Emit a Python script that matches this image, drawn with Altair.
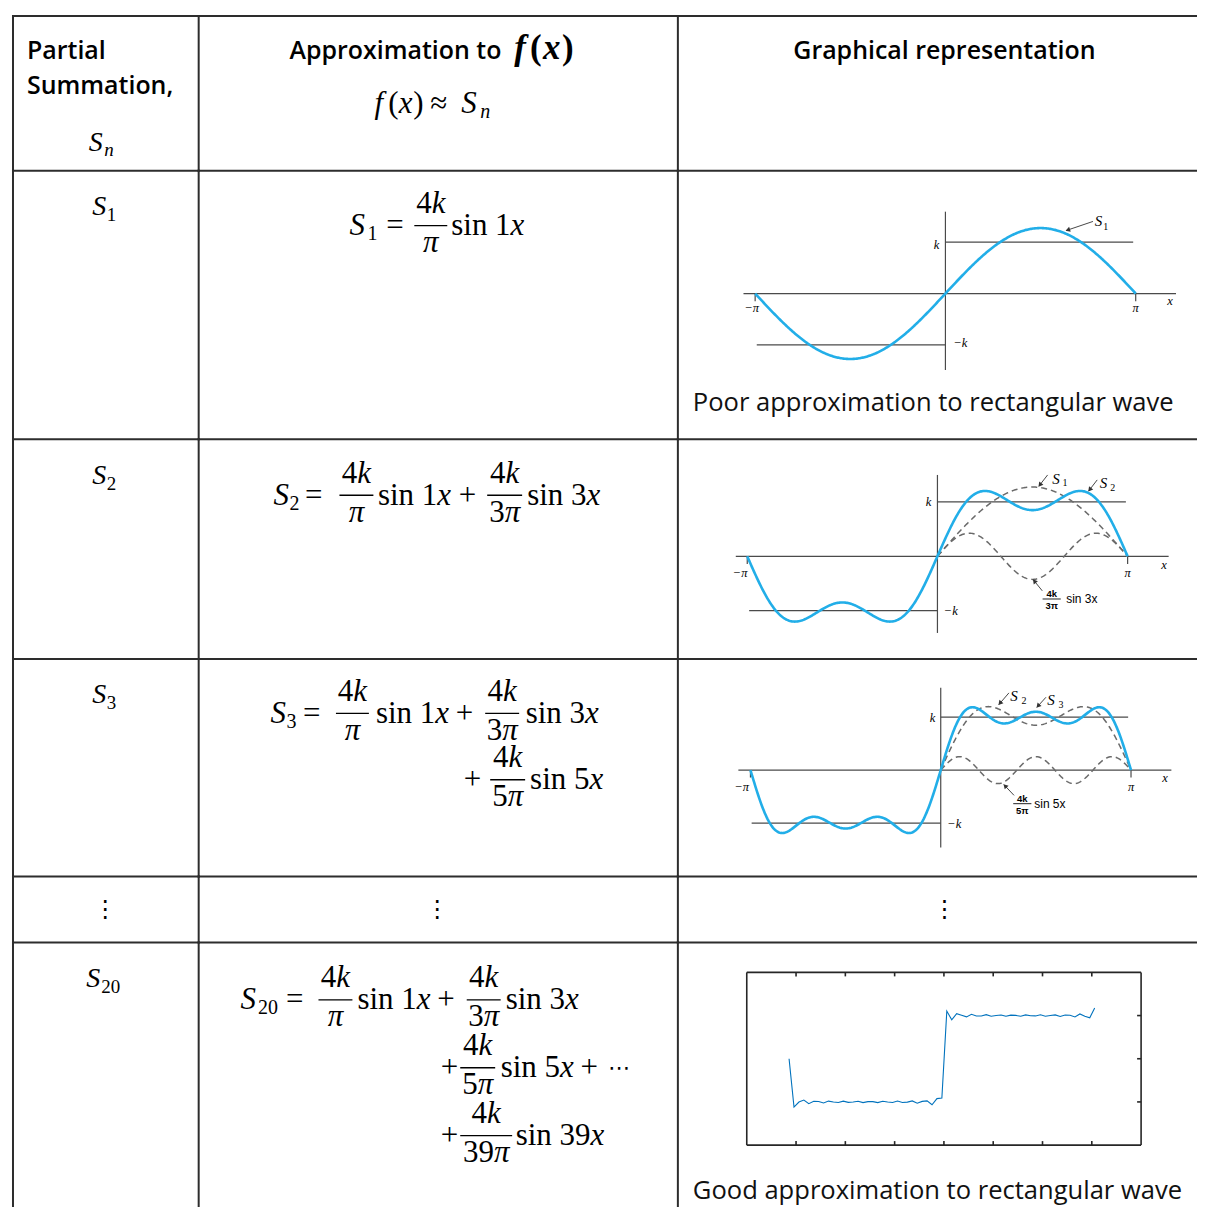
import math
import numpy as np
import pandas as pd
import altair as alt

PI = math.pi

# ---------------- chart values ----------------
header_partial = ["Partial", "Summation,"]
header_approx = "Approximation to"
header_graph = "Graphical representation"
sum_orders = ["1", "2", "3", "20"]                      # n of S_n
odd_harmonics = [1, 3, 5, 7, 9, 11, 13, 15, 17, 19, 21, 23, 25, 27, 29, 31, 33, 35, 37, 39]
caption_poor = "Poor approximation to rectangular wave"
caption_good = "Good approximation to rectangular wave"
k_amp = 1.0
s20_step = 0.1
s20_xlim = [-4, 4]
s20_ylim = [-2, 2]
s20_xticks = [-3, -2, -1, 0, 1, 2, 3]
s20_yticks = [-1, 0, 1]


def partial_sum(x, n_terms):
    return sum(4 * k_amp / (PI * m) * np.sin(m * x) for m in odd_harmonics[:n_terms])


# ---------------- layout / style ----------------
COLS = [12, 198, 678, 1198]
ROWS = [14, 169, 438, 658, 876, 942, 1207]
SERIF = "Liberation Serif"
SANS = "Open Sans"
LINE = "#2d2d2d"
CYAN = "#22AEE8"
AXC = "#4a4a4a"
MS = 31
SUB = 20

W_UP = {d: .5 for d in "0123456789"}
W_UP.update({"s": .389, "i": .278, "n": .5, " ": .25, "=": .564, "+": .564, "(": .333, ")": .333})
W_IT = {"S": .5, "k": .444, "x": .444, "π": .5, "f": .278, "n": .5}


def tw(t, size, it):
    tab = W_IT if it else W_UP
    return sum(tab.get(c, .5) for c in t) * size


def piece(text, x, y, size, italic=False, font=SERIF, weight=400, align="left",
          baseline="alphabetic", color="black"):
    return dict(text=text, x=x, y=y, size=size, style="italic" if italic else "normal",
                font=font, weight=weight, align=align, baseline=baseline, color=color)


def run(tokens, x, y, size):
    out = []
    for t, it in tokens:
        if t == " ":
            x += .25 * size
            continue
        out.append(piece(t, x, y, size, it))
        x += tw(t, size, it)
    return out


def centered(tokens, cx, y, size):
    total = sum(tw(t, size, it) for t, it in tokens)
    return run(tokens, cx - total / 2, y, size)


FOURK = [("4", False), ("k", True)]


def den_tok(m):
    return ([(str(m), False)] if m > 1 else []) + [("π", True)]


def formula(B, elems):
    pieces, rules = [], []
    bar = B - 9.5
    for e in elems:
        kind = e[0]
        if kind == "S":
            _, x, sub, sx = e
            pieces.append(piece("S", x, B, MS, True))
            pieces.append(piece(sub, sx, B + 5, SUB))
        elif kind in ("=", "+"):
            pieces.append(piece(kind, e[1], B, MS))
        elif kind == "frac":
            _, m, cx, half = e
            pieces += centered(FOURK, cx, bar - 12.5, MS)
            pieces += centered(den_tok(m), cx, bar + 26.5, MS)
            rules.append(dict(x=cx - half, x2=cx + half, y=bar))
        elif kind == "sin":
            _, m, x = e
            pieces += run([("sin", False), (" ", False), (str(m), False), ("x", True)], x, B, MS)
        elif kind == "cdots":
            pieces.append(piece("⋯", e[1], bar, 22, font="DejaVu Sans", baseline="middle"))
    return pieces, rules


def text_layers(df, xs=None, ys=None):
    layers = []
    keys = ["font", "style", "weight", "align", "baseline", "color"]
    for key, g in df.groupby(keys, sort=False):
        font, style, weight, align, baseline, color = key
        layers.append(
            alt.Chart(g[["x", "y", "text", "size"]].reset_index(drop=True))
            .mark_text(font=font, fontStyle=style, fontWeight=int(weight), align=align,
                       baseline=baseline, color=color)
            .encode(x=alt.X("x:Q", scale=xs, axis=None),
                    y=alt.Y("y:Q", scale=ys, axis=None),
                    text="text:N",
                    size=alt.Size("size:Q", scale=None, legend=None))
        )
    return layers


def border_layers(col, row):
    w, h = COLS[col + 1] - COLS[col], ROWS[row + 1] - ROWS[row]
    one = pd.DataFrame({"a": [0]})
    hx2 = w if col == 2 else w + 1
    vy2 = h if row == 5 else h + 1
    top = alt.Chart(one).mark_rule(color=LINE, strokeWidth=2).encode(
        x=alt.value(-1), x2=alt.value(hx2), y=alt.value(0))
    left = alt.Chart(one).mark_rule(color=LINE, strokeWidth=2).encode(
        x=alt.value(0), y=alt.value(-1), y2=alt.value(vy2))
    return [top, left]


def text_cell(col, row, pieces, rules=()):
    x0, y0 = COLS[col], ROWS[row]
    w, h = COLS[col + 1] - x0, ROWS[row + 1] - y0
    df = pd.DataFrame(pieces)
    df["x"] = df["x"] - x0
    df["y"] = df["y"] - y0
    layers = text_layers(df)
    if rules:
        r = pd.DataFrame(list(rules))
        r["x"] -= x0
        r["x2"] -= x0
        r["y"] -= y0
        layers.append(alt.Chart(r).mark_rule(color="black", strokeWidth=1.4).encode(
            x=alt.X("x:Q", scale=None), x2="x2:Q", y=alt.Y("y:Q", scale=None)))
    layers += border_layers(col, row)
    return alt.layer(*layers).properties(width=w, height=h)


def graph_cell(col, row, origin, ppu, solid, dashed, rules, labels, arrows,
               caption=None, caption_xy=None, solid_color=CYAN, solid_width=2.6):
    x0p, y0p = origin
    ppx, ppy = ppu
    w, h = COLS[col + 1] - COLS[col], ROWS[row + 1] - ROWS[row]
    xdom = [(COLS[col] - x0p) / ppx, (COLS[col + 1] - x0p) / ppx]
    ydom = [(y0p - ROWS[row + 1]) / ppy, (y0p - ROWS[row]) / ppy]
    xs = alt.Scale(domain=xdom, nice=False, zero=False)
    ys = alt.Scale(domain=ydom, nice=False, zero=False)
    X = lambda f: alt.X(f, scale=xs, axis=None)
    Y = lambda f: alt.Y(f, scale=ys, axis=None)
    layers = []
    rdf = pd.DataFrame(rules)
    for (color, width), g in rdf.groupby(["color", "width"], sort=False):
        layers.append(alt.Chart(g[["x", "x2", "y", "y2"]].reset_index(drop=True))
                      .mark_rule(color=color, strokeWidth=float(width))
                      .encode(x=X("x:Q"), x2="x2:Q", y=Y("y:Q"), y2="y2:Q"))
    if dashed is not None:
        layers.append(alt.Chart(dashed).mark_line(color="#6a6a6a", strokeWidth=1.5,
                                                  strokeDash=[6, 4])
                      .encode(x=X("x:Q"), y=Y("y:Q"), detail="series:N"))
    layers.append(alt.Chart(solid).mark_line(color=solid_color, strokeWidth=solid_width)
                  .encode(x=X("x:Q"), y=Y("y:Q")))
    if arrows:
        lines = pd.DataFrame([dict(x=a[0], y=a[1], x2=a[2], y2=a[3]) for a in arrows])
        heads = []
        for tx, ty, hx, hy in arrows:
            sx, sy = (hx - tx) * ppx, -(hy - ty) * ppy
            L = math.hypot(sx, sy)
            ang = math.degrees(math.atan2(sx, -sy)) % 360
            back = 2.5
            heads.append(dict(x=hx - sx / L * back / ppx, y=hy + sy / L * back / ppy, angle=ang))
        layers.append(alt.Chart(lines).mark_rule(color="#333", strokeWidth=0.9)
                      .encode(x=X("x:Q"), x2="x2:Q", y=Y("y:Q"), y2="y2:Q"))
        layers.append(alt.Chart(pd.DataFrame(heads))
                      .mark_point(shape="triangle", filled=True, color="#333", size=28, opacity=1)
                      .encode(x=X("x:Q"), y=Y("y:Q"), angle=alt.Angle("angle:Q", scale=None)))
    if labels:
        layers += text_layers(pd.DataFrame(labels), xs, ys)
    if caption:
        layers.append(alt.Chart(pd.DataFrame({"t": [caption]}))
                      .mark_text(font=SANS, fontSize=25.6, align="left", baseline="alphabetic",
                                 color="#111")
                      .encode(text="t:N", x=alt.value(caption_xy[0]), y=alt.value(caption_xy[1])))
    layers += border_layers(col, row)
    return alt.layer(*layers).properties(width=w, height=h)


def lab(text, x, y, size=12.5, italic=True, font=SERIF, align="center", baseline="middle", weight=400):
    return piece(text, x, y, size, italic, font=font, weight=weight, align=align, baseline=baseline)


def axis_rules(xext, yext, kline, mkline, tick_len):
    r = [dict(x=xext[0], x2=xext[1], y=0, y2=0),
         dict(x=0, x2=0, y=yext[0], y2=yext[1]),
         dict(x=0, x2=kline, y=k_amp, y2=k_amp),
         dict(x=mkline, x2=0, y=-k_amp, y2=-k_amp),
         dict(x=-PI, x2=-PI, y=0, y2=-tick_len),
         dict(x=PI, x2=PI, y=0, y2=-tick_len)]
    for d in r:
        d.update(color=AXC, width=1.2)
    return r


def axis_labels(mpi, ppi, xl, kl, mkl):
    return [lab("−π", *mpi), lab("π", *ppi), lab("x", *xl), lab("k", *kl), lab("−k", *mkl)]


def s_label(sx, sy, sub, bx, by):
    return [lab("S", sx, sy, 15, align="left", baseline="alphabetic"),
            lab(sub, bx - 0.03, by, 10, italic=False, align="left", baseline="alphabetic")]


def frac_label(cx, ny, bary, dy, m, tx, half=0.15):
    labs = [lab("4k", cx, ny, 9.5, italic=False, font="Liberation Sans", weight=700),
            lab(f"{m}π", cx, dy, 9.5, italic=False, font="Liberation Sans", weight=700),
            lab(f"sin {m}x", tx, bary, 12, italic=False, font="Liberation Sans", align="left")]
    bar = dict(x=cx - half, x2=cx + half, y=bary, y2=bary, color="#222", width=1.0)
    return labs, bar


xx = np.linspace(-PI, PI, 401)
xpos = np.linspace(0, PI, 201)


def solid_df(n):
    return pd.DataFrame({"x": xx, "y": partial_sum(xx, n)})


# ---------------- cells (row by row, 3 columns) ----------------
cells = []

# header
cells.append(text_cell(0, 0, [piece(header_partial[0], 26, 57, 25, font=SANS, weight=600),
                              piece(header_partial[1], 26, 92, 25, font=SANS, weight=600),
                              piece("S", 88, 149, 28, True), piece("n", 103.5, 154.5, 19, True)]))
cells.append(text_cell(1, 0, [piece(header_approx, 289, 57, 25, font=SANS, weight=600),
                              piece("f", 514, 57, 35, True, weight=700),
                              piece("(", 530, 57, 35, False, weight=700),
                              piece("x", 543, 57, 35, True, weight=700),
                              piece(")", 562, 57, 35, False, weight=700),
                              piece("f", 374, 111, MS, True), piece("(", 388, 111, MS),
                              piece("x", 398.5, 111, MS, True), piece(")", 413, 111, MS),
                              piece("≈", 430, 111, MS), piece("S", 461, 111, MS, True),
                              piece("n", 480, 116, SUB, True)]))
cells.append(text_cell(2, 0, [piece(header_graph, 945, 57, 25, font=SANS, weight=600, align="center")]))


def row_label(row, sub, sx=91.5, bx=106):
    top = ROWS[row]
    return text_cell(0, row, [piece("S", sx, top + 44.5, 28, True),
                              piece(sub, bx, top + 50.5, 19)])


# S1 row
p, r = formula(233.5, [("S", 349, sum_orders[0], 367), ("=", 386),
                       ("frac", odd_harmonics[0], 430.5, 16.5), ("sin", odd_harmonics[0], 451)])
g1_labels = axis_labels((-3.198, -0.29), (PI, -0.29), (3.709, -0.136), (-0.148, 0.951), (0.247, -0.971))
g1_labels += s_label(2.464, 1.32, "1", 2.637, 1.243)
g1 = graph_cell(2, 1, (946, 292), (60.67, 51.5), solid_df(1), None,
                axis_rules((-3.334, 3.807), (-1.487, 1.592), 3.1, -3.115, 0.15),
                g1_labels, [(2.436, 1.402, 1.993, 1.225)],
                caption=caption_poor, caption_xy=(15, 240.5))
cells += [row_label(1, sum_orders[0]), text_cell(1, 1, p, r), g1]

# S2 row
p, r = formula(503.5, [("S", 273, sum_orders[1], 289), ("=", 304.5),
                       ("frac", 1, 356, 17), ("sin", 1, 377.5), ("+", 458.5),
                       ("frac", 3, 504.5, 17.5), ("sin", 3, 527)])
dash2 = pd.concat([
    pd.DataFrame({"x": xpos, "y": partial_sum(xpos, 1), "series": "S1"}),
    pd.DataFrame({"x": xpos, "y": 4 * k_amp / (3 * PI) * np.sin(3 * xpos), "series": "t3"})])
g2_labels = axis_labels((-3.26, -0.314), (PI, -0.314), (3.743, -0.161), (-0.148, 0.994), (0.221, -1.006))
g2_labels += s_label(1.896, 1.334, "1", 2.094, 1.288) + s_label(2.681, 1.251, "2", 2.886, 1.196)
fl, fb = frac_label(1.887, -0.694, -0.785, -0.914, 3, 2.126)
g2_labels += fl
g2_rules = axis_rules((-3.331, 3.819), (-1.409, 1.495), 3.113, -3.11, 0.14) + [fb]
g2 = graph_cell(2, 2, (938, 555.2), (60.64, 54.5), solid_df(2), dash2, g2_rules, g2_labels,
                [(1.82, 1.495, 1.675, 1.288), (2.639, 1.404, 2.498, 1.2), (1.732, -0.635, 1.583, -0.431)])
cells += [row_label(2, sum_orders[1]), text_cell(1, 2, p, r), g2]

# S3 row
p, r = formula(722, [("S", 270, sum_orders[2], 286), ("=", 302.5),
                     ("frac", 1, 352, 16.5), ("sin", 1, 375.5), ("+", 455.5),
                     ("frac", 3, 502, 17), ("sin", 3, 525.5)])
p2, r2 = formula(788.5, [("+", 463.5), ("frac", 5, 507.5, 17.5), ("sin", 5, 530)])
dash3 = pd.concat([
    pd.DataFrame({"x": xpos, "y": partial_sum(xpos, 2), "series": "S2"}),
    pd.DataFrame({"x": xpos, "y": 4 * k_amp / (5 * PI) * np.sin(5 * xpos), "series": "t5"})])
g3_labels = axis_labels((-3.285, -0.313), (PI, -0.313), (3.704, -0.158), (-0.137, 0.989), (0.223, -1.017))
g3_labels += s_label(1.149, 1.309, "2", 1.363, 1.253) + s_label(1.759, 1.234, "3", 1.973, 1.177)
fl, fb = frac_label(1.347, -0.54, -0.634, -0.775, 5, 1.544)
g3_labels += fl
g3_rules = axis_rules((-3.341, 3.808), (-1.462, 1.555), 3.094, -3.122, 0.14) + [fb]
g3 = graph_cell(2, 3, (941.3, 769.4), (60.67, 53), solid_df(3), dash3, g3_rules, g3_labels,
                [(1.126, 1.46, 0.959, 1.238), (1.737, 1.377, 1.587, 1.187), (1.21, -0.477, 1.043, -0.274)])
cells += [row_label(3, sum_orders[2]), text_cell(1, 3, p + p2, r + r2), g3]

# dots row
for ci, cx in enumerate([104.5, 437, 945]):
    cells.append(text_cell(ci, 4, [piece("⋮", cx, 910, 24, font="DejaVu Sans", align="center",
                                         baseline="middle")]))

# S20 row
p, r = formula(1009, [("S", 240, sum_orders[3], 257.5), ("=", 285.5),
                      ("frac", 1, 335, 17), ("sin", 1, 357), ("+", 437),
                      ("frac", 3, 483.5, 17), ("sin", 3, 505.5)])
p2, r2 = formula(1077, [("+", 440.5), ("frac", 5, 477.5, 17.5), ("sin", 5, 500.5), ("+", 580.5),
                        ("cdots", 608)])
p3, r3 = formula(1145, [("+", 440.5), ("frac", odd_harmonics[-1], 486, 26),
                        ("sin", odd_harmonics[-1], 515.5)])
x20 = np.arange(-PI, PI + 1e-9, s20_step)
s20 = pd.DataFrame({"x": x20, "y": partial_sum(x20, 20)})
ppx20, ppy20 = 49.375, 43.25
fr = [dict(x=s20_xlim[0], x2=s20_xlim[1], y=s20_ylim[1], y2=s20_ylim[1]),
      dict(x=s20_xlim[0], x2=s20_xlim[1], y=s20_ylim[0], y2=s20_ylim[0]),
      dict(x=s20_xlim[0], x2=s20_xlim[0], y=s20_ylim[0], y2=s20_ylim[1]),
      dict(x=s20_xlim[1], x2=s20_xlim[1], y=s20_ylim[0], y2=s20_ylim[1])]
tl = 4.0
for t in s20_xticks:
    fr.append(dict(x=t, x2=t, y=s20_ylim[1], y2=s20_ylim[1] - tl / ppy20))
    fr.append(dict(x=t, x2=t, y=s20_ylim[0], y2=s20_ylim[0] + tl / ppy20))
for t in s20_yticks:
    fr.append(dict(x=s20_xlim[1], x2=s20_xlim[1] - tl / ppx20, y=t, y2=t))
for d in fr:
    d.update(color="#262626", width=1.6)
g20 = graph_cell(2, 5, (944.5, 1058.5), (ppx20, ppy20), s20, None, fr, [], [],
                 caption=caption_good, caption_xy=(15, 256.5), solid_color="#0072BD", solid_width=1.1)
cells += [row_label(5, sum_orders[3], sx=85.5, bx=100.5),
          text_cell(1, 5, p + p2 + p3, r + r2 + r3), g20]

chart = (alt.concat(*cells, columns=3, spacing=0, bounds="flush")
         .properties(padding={"left": 3, "top": 5, "right": 0, "bottom": 0}, background="white")
         .configure_view(strokeWidth=0))

chart.save("out.html", embed_options={"renderer": "svg", "actions": False})
